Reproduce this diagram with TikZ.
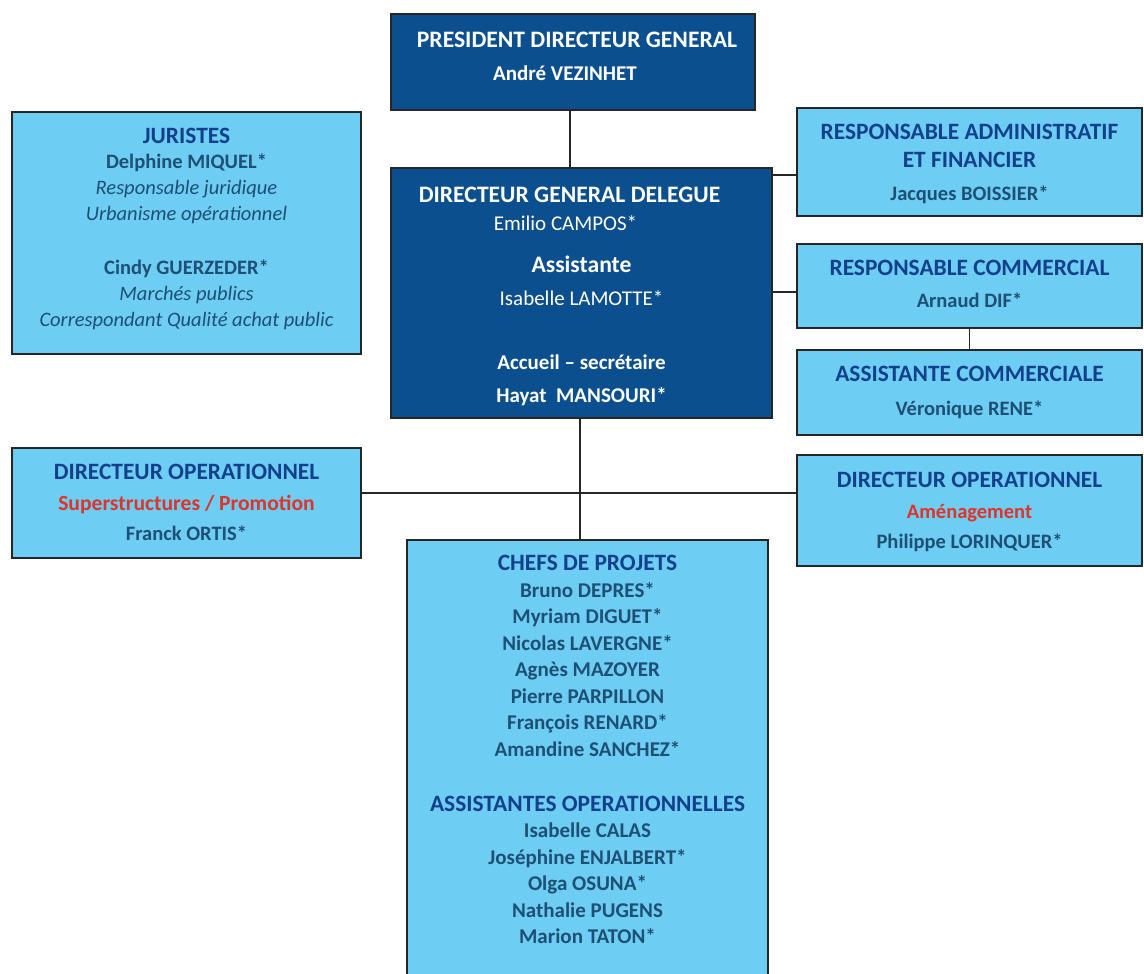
\documentclass[tikz,border=0pt]{standalone}
\usepackage{fontspec}
\setmainfont{Carlito}
\usetikzlibrary{positioning}

\definecolor{boxdark}{HTML}{0C4F8F}
\definecolor{boxlight}{HTML}{6DCDF3}
\definecolor{headblue}{HTML}{13408C}
\definecolor{nameblue}{HTML}{1E4F74}
\definecolor{redtxt}{HTML}{E03329}

\newcommand{\boxhead}[1]{{\fontsize{11.7}{13}\selectfont\color{headblue}#1}}
\newcommand{\redline}[1]{{\color{redtxt}#1}}
\newcommand{\roletxt}[1]{{\mdseries\itshape #1}}

\tikzset{
  darkbox/.style={draw=black!85, line width=0.9pt, fill=boxdark, inner sep=0pt},
  lightbox/.style={draw=black!85, line width=0.9pt, fill=boxlight, inner sep=0pt},
  darktext/.style={align=center, inner sep=0pt, text=white, font=\fontsize{10.5}{14}\selectfont},
  lighttext/.style={align=center, inner sep=0pt, text=nameblue, font=\fontsize{10.25}{13}\selectfont\bfseries},
  link/.style={draw=black!85, line width=0.9pt},
}

\begin{document}
\begin{tikzpicture}[x=0.5pt,y=-0.5pt]
  \useasboundingbox (0,0) rectangle (1144,973);

  %%%%% direction %%%%%
  \node[darkbox, minimum width=182pt, minimum height=48pt] (pdg) at (573,62) {};
  \node[darktext, below=9.5pt of pdg.north] (pdgtxt) {%
    {\bfseries\fontsize{11.8}{14}\selectfont\hspace*{4pt}PRESIDENT DIRECTEUR GENERAL}\\[2.5pt]
    {\bfseries André VEZINHET\hspace*{8pt}}};

  \node[darkbox, minimum width=190.5pt, minimum height=125pt] (dgd) at (581.5,293) {};
  \node[darktext, below=10pt of dgd.north] (dgdtxt) {%
    {\bfseries\fontsize{11.8}{14}\selectfont DIRECTEUR GENERAL DELEGUE\hspace*{12pt}}\\
    \hbox{Emilio CAMPOS*\kern16pt}\\[7pt]
    {\bfseries\fontsize{11.8}{14}\selectfont Assistante}\\[2.5pt]
    Isabelle LAMOTTE*\\[18pt]
    {\bfseries Accueil -- secrétaire}\\[2.5pt]
    {\bfseries Hayat\ \ MANSOURI*}};

  %%%%% left column %%%%%
  \node[lightbox, minimum width=174.5pt, minimum height=121pt] (jur) at (186.5,233) {};
  \node[lighttext, below=8.5pt of jur.north] (jurtxt) {%
    \boxhead{JURISTES}\\[-0.5pt]
    Delphine MIQUEL*\\
    \roletxt{Responsable juridique}\\
    \roletxt{Urbanisme opérationnel}\\[14pt]
    Cindy GUERZEDER*\\
    \roletxt{Marchés publics}\\
    \roletxt{Correspondant Qualité achat public}};

  \node[lightbox, minimum width=174.5pt, minimum height=55pt] (dol) at (186.5,503) {};
  \node[lighttext, below=8.5pt of dol.north] (doltxt) {%
    \boxhead{DIRECTEUR OPERATIONNEL}\\[2.5pt]
    {\fontsize{10.8}{13}\selectfont\redline{Superstructures / Promotion}}\\[2pt]
    Franck ORTIS*};

  %%%%% right column %%%%%
  \node[lightbox, minimum width=172.5pt, minimum height=54pt] (raf) at (969.5,162) {};
  \node[lighttext, below=8.5pt of raf.north] (raftxt) {%
    \boxhead{RESPONSABLE ADMINISTRATIF}\\[1pt]
    \boxhead{ET FINANCIER}\\[3.5pt]
    Jacques BOISSIER*};

  \node[lightbox, minimum width=172.5pt, minimum height=42pt] (rc) at (969.5,286) {};
  \node[lighttext, below=8.5pt of rc.north] (rctxt) {%
    \boxhead{RESPONSABLE COMMERCIAL}\\[3pt]
    Arnaud DIF*};

  \node[lightbox, minimum width=172.5pt, minimum height=42.5pt] (ac) at (969.5,392.5) {};
  \node[lighttext, below=8.5pt of ac.north] (actxt) {%
    \boxhead{ASSISTANTE COMMERCIALE}\\[4pt]
    Véronique RENE*};

  \node[lightbox, minimum width=172.5pt, minimum height=55.5pt] (dor) at (969.5,510.5) {};
  \node[lighttext, below=9pt of dor.north] (dortxt) {%
    \boxhead{DIRECTEUR OPERATIONNEL}\\[2.5pt]
    \redline{Aménagement}\\[2pt]
    Philippe LORINQUER*};

  %%%%% projects %%%%%
  \node[lightbox, minimum width=180.5pt, minimum height=225pt] (cdp) at (587.5,765) {};
  \node[lighttext, font=\fontsize{10.5}{13.25}\selectfont\bfseries, below=8pt of cdp.north] (cdptxt) {%
    \boxhead{CHEFS DE PROJETS}\\
    Bruno DEPRES*\\
    Myriam DIGUET*\\
    Nicolas LAVERGNE*\\
    Agnès MAZOYER\\
    Pierre PARPILLON\\
    François RENARD*\\
    Amandine SANCHEZ*\\[14.25pt]
    \boxhead{ASSISTANTES OPERATIONNELLES}\\
    Isabelle CALAS\\
    Joséphine ENJALBERT*\\
    Olga OSUNA*\\
    Nathalie PUGENS\\
    Marion TATON*};

  %%%%% links %%%%%
  \draw[link] ([xshift=-1.5pt]pdg.south) -- ([xshift=-1.5pt]pdg.south |- dgd.north);
  \draw[link] ([yshift=-6.5pt]raf.west) -- ([yshift=-6.5pt]raf.west -| dgd.east);
  \draw[link] ([yshift=-3pt]rc.west) -- ([yshift=-3pt]rc.west -| dgd.east);
  \draw[link] (rc.south) -- (ac.north);

  \coordinate (hub) at ([xshift=-0.75pt]dgd.south |- 0,493);
  \draw[link] ([xshift=-0.75pt]dgd.south) -- (hub |- cdp.north);
  \draw[link] (dol.east |- hub) -- (dor.west |- hub);
\end{tikzpicture}
\end{document}
